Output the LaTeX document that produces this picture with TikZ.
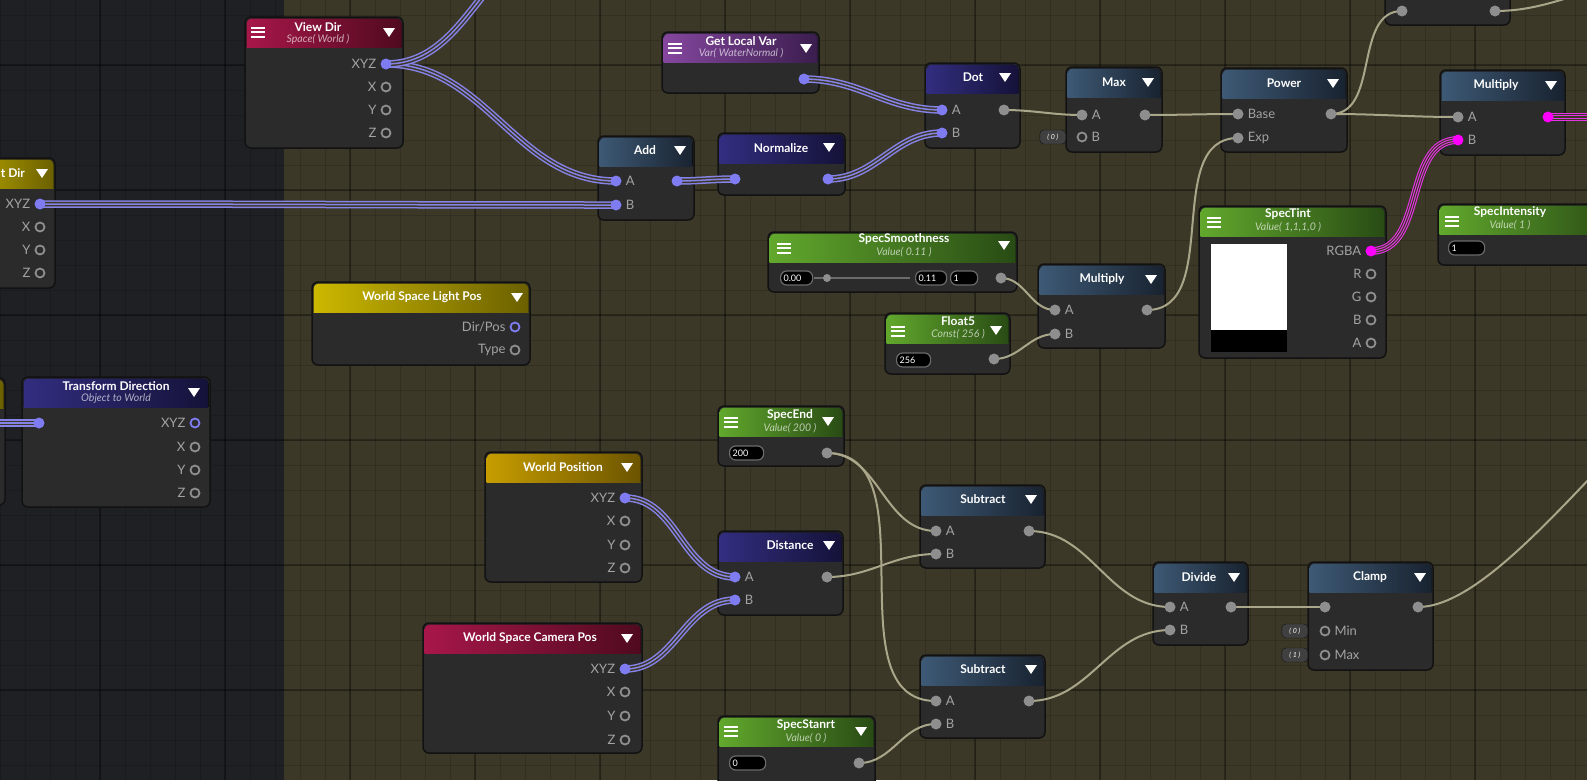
\documentclass[tikz,border=0pt]{standalone}
\usepackage{fontspec}
\setmainfont{Lato}
\usepackage{tikz}
\pgfdeclarelayer{front}
\pgfsetlayers{main,front}
\definecolor{bgdark}{HTML}{1F2023}
\definecolor{bgolive}{HTML}{3C3827}
\definecolor{nodebody}{HTML}{2B2B2B}
\definecolor{nodeline}{HTML}{121212}
\definecolor{redA}{HTML}{A8174A}
\definecolor{redB}{HTML}{4F0A1F}
\definecolor{yelA}{HTML}{CDB900}
\definecolor{yelB}{HTML}{6A5F00}
\definecolor{golA}{HTML}{C79E00}
\definecolor{golB}{HTML}{6A5300}
\definecolor{purA}{HTML}{85479F}
\definecolor{purB}{HTML}{3A1D4D}
\definecolor{indA}{HTML}{332E80}
\definecolor{indB}{HTML}{141238}
\definecolor{slaA}{HTML}{3E5A76}
\definecolor{slaB}{HTML}{18222F}
\definecolor{greA}{HTML}{62A92D}
\definecolor{greB}{HTML}{284A14}
\definecolor{vecwire}{HTML}{8582E8}
\definecolor{colwire}{HTML}{E633E6}
\definecolor{fltwire}{HTML}{A9A68A}
\definecolor{vecport}{HTML}{7F7CF2}
\definecolor{fltport}{HTML}{8E8E8E}
\definecolor{colport}{HTML}{FF00FF}
\definecolor{labeltext}{HTML}{A3A3A3}
\definecolor{fieldline}{HTML}{6B6B6B}
\tikzstyle{minorgrid}=[black,opacity=0.13,line width=1pt]
\tikzstyle{majorgrid}=[black,opacity=0.3,line width=2pt]
\tikzstyle{body}=[fill=nodebody,draw=nodeline,line width=1.5pt,rounded corners=6pt]
\tikzstyle{hred}=[left color=redA,right color=redB]
\tikzstyle{hyellow}=[left color=yelA,right color=yelB]
\tikzstyle{hgold}=[left color=golA,right color=golB]
\tikzstyle{hpurple}=[left color=purA,right color=purB]
\tikzstyle{hindigo}=[left color=indA,right color=indB]
\tikzstyle{hslate}=[left color=slaA,right color=slaB]
\tikzstyle{hgreen}=[left color=greA,right color=greB]
\tikzstyle{title}=[inner sep=0pt,text=white,font=\fontsize{12}{14}\selectfont\bfseries]
\tikzstyle{sub}=[inner sep=0pt,text=white,text opacity=0.65,font=\fontsize{10.5}{11}\selectfont\itshape]
\tikzstyle{plabel}=[inner sep=0pt,text=labeltext,font=\fontsize{13}{14}\selectfont]
\tikzstyle{llab}=[plabel,xshift=-4pt]
\tikzstyle{rlab}=[plabel,xshift=4pt]
\tikzstyle{vport}=[circle,inner sep=0pt,minimum size=11pt,fill=vecport]
\tikzstyle{fport}=[circle,inner sep=0pt,minimum size=11pt,fill=fltport]
\tikzstyle{cport}=[circle,inner sep=0pt,minimum size=11pt,fill=colport]
\tikzstyle{oport}=[circle,inner sep=0pt,minimum size=9pt,draw=fltport,line width=1.8pt,fill=nodebody]
\tikzstyle{ovport}=[oport,draw=vecport]
\tikzstyle{field}=[anchor=west,draw=fieldline,fill=black,rounded corners=6pt,line width=1.2pt,inner xsep=3pt,inner ysep=1.5pt,minimum height=14pt,text=white!85,font=\fontsize{9}{10}\selectfont]
\tikzstyle{defbox}=[anchor=east,fill=black!75,draw=nodeline,rounded corners=4pt,minimum height=14pt,minimum width=26pt,inner sep=1pt,text=white!60,font=\fontsize{7}{8}\selectfont\itshape]
\tikzstyle{menu}=[white,line width=2pt]
\tikzstyle{drop}=[fill=white]
\tikzstyle{fwire}=[draw=fltwire,line width=2pt]
\tikzstyle{vwire}=[draw=vecwire,line width=1.5pt,preaction={draw=vecwire,line width=7.5pt},preaction={draw=bgolive,line width=4.5pt}]
\tikzstyle{cwire}=[draw=bgolive,line width=1.1pt,preaction={draw=colwire,line width=7.7pt},preaction={draw=bgolive,line width=5.5pt},preaction={draw=colwire,line width=3.3pt}]

\begin{document}
\begin{tikzpicture}[x=1pt,y=-1pt]
	\useasboundingbox (0,0) rectangle (1587,780);
	\clip (0,0) rectangle (1587,780);
	% canvas
	\fill[bgdark] (0,0) rectangle (284,780);
	\fill[bgolive] (284,0) rectangle (1587,780);
	\foreach \gx in {0,25,...,1575} \draw[minorgrid] (\gx,0) -- (\gx,780);
	\foreach \gy in {15,40,...,765} \draw[minorgrid] (0,\gy) -- (1587,\gy);
	\foreach \gx in {100,225,...,1475} \draw[majorgrid] (\gx,0) -- (\gx,780);
	\foreach \gy in {65,190,...,690} \draw[majorgrid] (0,\gy) -- (1587,\gy);

	% node bodies and headers
	\foreach \xa/\ya/\xb/\yb/\hd in {
	245/17/403/148/hred, -60/158/55/288/hyellow, -150/378/5/505/hyellow,
	22/377/210/507/hindigo, 312/282/530/365/hyellow, 662/32/819/93/hpurple,
	598/136/694/220/hslate, 718/133/845/195/hindigo, 925/63/1020/148/hindigo,
	1066/67/1162/152/hslate, 1221/68/1347/152/hslate, 1440/70/1565/155/hslate,
	1385/-100/1510/25/hslate, 768/232/1017/292/hgreen, 1038/264/1165/348/hslate,
	885/313/1010/374/hgreen, 1199/206/1386/358/hgreen, 1438/204/1620/265/hgreen,
	718/406/844/466/hgreen, 485/452/642/582/hgold, 718/531/843/615/hindigo,
	423/623/642/753/hred, 920/485/1045/568/hslate, 920/655/1045/738/hslate,
	1153/562/1248/645/hslate, 1308/562/1433/670/hslate, 718/716/875/820/hgreen}{
		\draw[body] (\xa,\ya) rectangle (\xb,\yb);
		\begin{scope}
			\clip[rounded corners=5pt] (\xa+1.5,\ya+1.5) rectangle (\xb-1.5,\yb-1.5);
			\fill[\hd] (\xa,\ya) rectangle (\xb,\ya+30);
		\end{scope}
	}

	% titles
	\foreach \place/\name/\txt in {
	{(318,27)}/vdTitle/View Dir, {(116,386)}/tdTitle/Transform Direction,
	{(422,297)}/lpTitle/World Space Light Pos, {(741,41)}/glvTitle/Get Local Var,
	{(645,150)}/addTitle/Add, {(781,148)}/normTitle/Normalize, {(973,77)}/dotTitle/Dot,
	{(1114,82)}/maxTitle/Max, {(1284,83)}/powTitle/Power, {(1496,85)}/mulTitle/Multiply,
	{(904,239)}/smTitle/SpecSmoothness, {(1102,279)}/mul2Title/Multiply,
	{(958,321)}/f5Title/Float5, {(1288,214)}/tintTitle/SpecTint,
	{(1510,212)}/intTitle/SpecIntensity, {(790,415)}/endTitle/SpecEnd,
	{(563,467)}/wpTitle/World Position, {(790,545)}/distTitle/Distance,
	{(530,638)}/camTitle/World Space Camera Pos, {(983,499)}/subTitle/Subtract,
	{(983,669)}/sub2Title/Subtract, {(1199,577)}/divTitle/Divide,
	{(1370,577)}/clTitle/Clamp, {(806,725)}/startTitle/SpecStanrt}
		\node[title] (\name) at \place {\txt};
	\node[title,anchor=east] (ldTitle) at (25,173) {t Dir};
	\foreach \place/\name/\txt in {
	{(318,39)}/vdSub/{Space( World )}, {(116,399)}/tdSub/Object to World,
	{(741,53)}/glvSub/{Var( WaterNormal )}, {(904,252)}/smSub/{Value( 0.11 )},
	{(958,334)}/f5Sub/{Const( 256 )}, {(1288,227)}/tintSub/{Value( 1,1,1,0 )},
	{(1510,225)}/intSub/{Value( 1 )}, {(790,428)}/endSub/{Value( 200 )},
	{(806,738)}/startSub/{Value( 0 )}}
		\node[sub] (\name) at \place {\txt};

	% dropdown arrows and menu icons
	\foreach \x/\y in {389/32, 42/173, 194/392, 517/297, 806/48, 680/150, 829/147,
	1005/77, 1148/82, 1333/83, 1551/85, 1004/245, 1151/279, 996/330, 828/421,
	627/467, 829/545, 627/638, 1031/499, 1031/669, 1234/577, 1420/577, 861/731}
		\fill[drop] (\x-6,\y-4) -- (\x+6,\y-4) -- (\x,\y+5) -- cycle;
	\foreach \x/\y in {258/32, 675/48, 784/248, 898/331, 1214/222, 1452/221, 731/422, 731/731}
		\foreach \d in {-4.5,0,4.5}
			\draw[menu] (\x-7,\y+\d) -- (\x+7,\y+\d);

	% value fields
	\foreach \place/\name/\w/\val in {
	{(780,278)}/smMin/26/0.00, {(915,278)}/smVal/25/0.11, {(950,278)}/smMax/21/1,
	{(896,360)}/f5Val/28/256, {(1448,248)}/intVal/30/1, {(729,453)}/endVal/28/200,
	{(729,763)}/startVal/30/0}
		\node[field,text width=\w pt] (\name) at \place {\val};
	\draw[fieldline,line width=2pt] (814,278) -- (910,278);
	\fill[fltport] (827,278) circle (4);
	\node[defbox] (maxDef) at (1066,137) {( 0 )};
	\node[defbox] (minDef) at (1308,631) {( 0 )};
	\node[defbox] (clMaxDef) at (1308,655) {( 1 )};
	% tint preview
	\fill[white] (1211,244) rectangle (1287,330);
	\fill[black] (1211,330) rectangle (1287,352);

	% ports
	\begin{pgfonlayer}{front}
	\foreach \place/\name/\lab in {{(386,64)}/vdXYZ/XYZ, {(40,204)}/ldXYZ/XYZ,
	{(625,498)}/wpXYZ/XYZ, {(625,669)}/camXYZ/XYZ}
		\node[vport,label={[llab]left:\lab}] (\name) at \place {};
	\foreach \place/\name/\lab in {{(195,423)}/tdXYZ/XYZ, {(515,327)}/lpDir/{Dir/Pos}}
		\node[ovport,label={[llab]left:\lab}] (\name) at \place {};
	\foreach \place/\name/\lab in {
	{(386,87)}/vdX/X, {(386,110)}/vdY/Y, {(386,133)}/vdZ/Z,
	{(40,227)}/ldX/X, {(40,250)}/ldY/Y, {(40,273)}/ldZ/Z,
	{(195,447)}/tdX/X, {(195,470)}/tdY/Y, {(195,493)}/tdZ/Z,
	{(515,350)}/lpType/Type,
	{(625,521)}/wpX/X, {(625,545)}/wpY/Y, {(625,568)}/wpZ/Z,
	{(625,692)}/camX/X, {(625,716)}/camY/Y, {(625,740)}/camZ/Z,
	{(1371,274)}/tintR/R, {(1371,297)}/tintG/G, {(1371,320)}/tintB/B, {(1371,343)}/tintA/A}
		\node[oport,label={[llab]left:\lab}] (\name) at \place {};
	\foreach \place/\name/\lab in {{(616,181)}/addA/A, {(616,205)}/addB/B,
	{(942,110)}/dotA/A, {(942,133)}/dotB/B, {(735,577)}/distA/A, {(735,600)}/distB/B}
		\node[vport,label={[rlab]right:\lab}] (\name) at \place {};
	\foreach \place/\name in {{(39,423)}/tdIn, {(804,79)}/glvOut, {(677,181)}/addOut,
	{(735,179)}/normIn, {(828,179)}/normOut}
		\node[vport] (\name) at \place {};
	\foreach \place/\name/\lab in {{(1082,115)}/maxA/A, {(1238,114)}/powBase/Base,
	{(1238,138)}/powExp/Exp, {(1458,117)}/mulA/A, {(1055,310)}/mul2A/A,
	{(1055,334)}/mul2B/B, {(936,531)}/subA/A, {(936,554)}/subB/B,
	{(936,701)}/sub2A/A, {(936,724)}/sub2B/B, {(1170,607)}/divA/A, {(1170,630)}/divB/B}
		\node[fport,label={[rlab]right:\lab}] (\name) at \place {};
	\foreach \place/\name/\lab in {{(1082,137)}/maxB/B, {(1325,631)}/clMin/Min,
	{(1325,655)}/clMax/Max}
		\node[oport,label={[rlab]right:\lab}] (\name) at \place {};
	\foreach \place/\name in {{(1004,110)}/dotOut, {(1145,115)}/maxOut,
	{(1331,114)}/powOut, {(1402,11)}/topIn, {(1495,11)}/topOut, {(1001,278)}/smOut,
	{(1147,310)}/mul2Out, {(994,359)}/f5Out, {(827,453)}/endOut, {(827,577)}/distOut,
	{(1029,531)}/subOut, {(1029,701)}/sub2Out, {(1231,607)}/divOut,
	{(1325,607)}/clIn, {(1418,607)}/clOut, {(859,763)}/startOut}
		\node[fport] (\name) at \place {};
	\node[cport,label={[llab]left:RGBA}] (tintRGBA) at (1371,251) {};
	\node[cport,label={[rlab]right:B}] (mulB) at (1458,140) {};
	\node[cport] (mulOut) at (1548,117) {};
	\end{pgfonlayer}

	% off-screen ends
	\coordinate (vdUp) at (570,-60);
	\coordinate (ltOut) at (-8,423);
	\coordinate (topUp) at (1640,-15);
	\coordinate (mulRight) at (1600,117);
	\coordinate (clUp) at (1780,330);

	% connections
	\foreach \source/\dest in {vdXYZ/addA, vdXYZ/vdUp, ldXYZ/addB, addOut/normIn,
	normOut/dotB, glvOut/dotA, wpXYZ/distA, camXYZ/distB, ltOut/tdIn}
		\draw[vwire] (\source.center) to[out=0,in=180] (\dest.center);
	\foreach \source/\dest in {dotOut/maxA, maxOut/powBase, powOut/mulA, powOut/topIn,
	topOut/topUp, smOut/mul2A, f5Out/mul2B, mul2Out/powExp, endOut/subA, endOut/sub2A,
	distOut/subB, startOut/sub2B, subOut/divA, sub2Out/divB, divOut/clIn}
		\draw[fwire] (\source.center) to[out=0,in=180] (\dest.center);
	\draw[fwire] (clOut.center) .. controls +(100,0) and +(-100,0) .. (clUp);
	\foreach \source/\dest in {tintRGBA/mulB, mulOut/mulRight}
		\draw[cwire] (\source.center) to[out=0,in=180] (\dest.center);
\end{tikzpicture}
\end{document}
